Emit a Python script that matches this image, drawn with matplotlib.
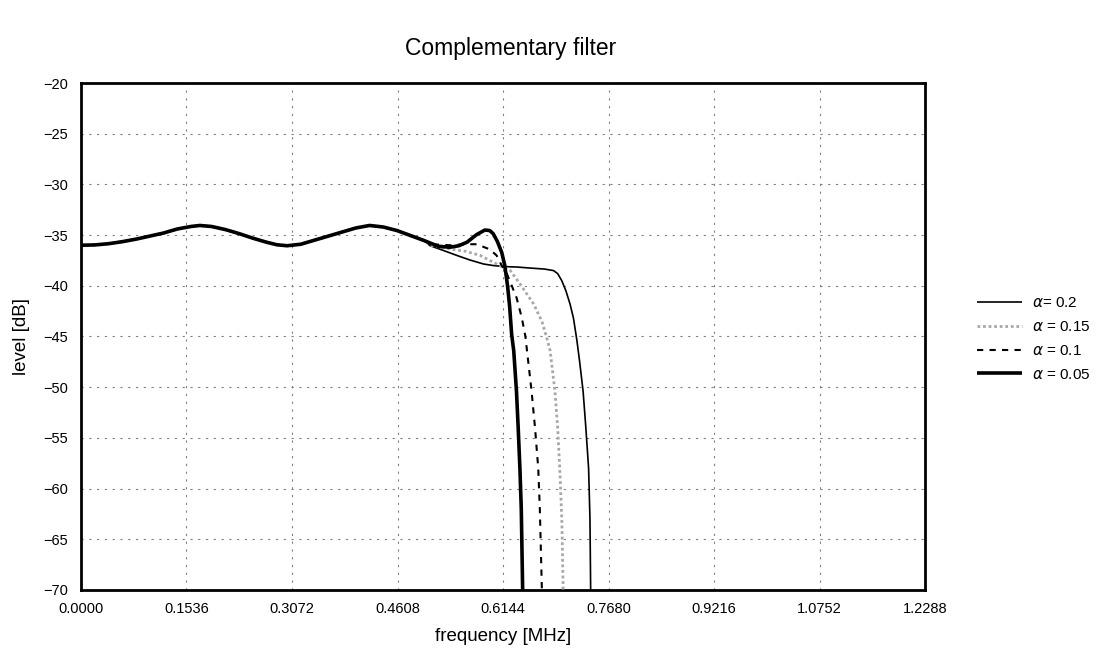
import matplotlib
matplotlib.use("Agg")
import matplotlib.pyplot as plt
import numpy as np

plt.rcParams['font.family'] = ['Liberation Sans', 'DejaVu Sans']
plt.rcParams['axes.unicode_minus'] = True
plt.rcParams['mathtext.fontset'] = 'dejavusans'

# ---- data ----
base_f = [0.000, 0.020, 0.040, 0.060, 0.080, 0.100, 0.120, 0.140, 0.160, 0.173,
          0.190, 0.210, 0.230, 0.250, 0.270, 0.285, 0.300, 0.320, 0.340, 0.360,
          0.380, 0.400, 0.420, 0.440, 0.460, 0.480, 0.500]
base_l = [-36.0, -35.97, -35.85, -35.65, -35.4, -35.1, -34.8, -34.4, -34.15, -34.05,
          -34.15, -34.45, -34.85, -35.3, -35.7, -35.95, -36.05, -35.9, -35.5, -35.1,
          -34.7, -34.3, -34.05, -34.2, -34.55, -35.05, -35.55]

a020_f = [0.508, 0.527, 0.547, 0.566, 0.586, 0.600, 0.615, 0.635, 0.654, 0.675,
          0.688, 0.694, 0.700, 0.706, 0.712, 0.717, 0.722, 0.726, 0.731, 0.735,
          0.739, 0.741, 0.742]
a020_l = [-36.04, -36.5, -37.0, -37.45, -37.85, -38.0, -38.1, -38.15, -38.25, -38.35,
          -38.5, -38.8, -39.5, -40.5, -41.8, -43.2, -45.4, -47.5, -50.4, -54.0,
          -58.0, -63.0, -70.0]

a015_f = [0.508, 0.537, 0.560, 0.581, 0.605, 0.625, 0.639, 0.659, 0.671, 0.678,
          0.683, 0.690, 0.694, 0.697, 0.700, 0.702]
a015_l = [-36.0, -36.37, -36.6, -37.0, -37.85, -38.5, -39.8, -41.8, -43.5, -45.1,
          -46.4, -50.4, -54.0, -58.0, -63.0, -70.0]

a010_f = [0.508, 0.537, 0.560, 0.576, 0.595, 0.605, 0.6125, 0.620, 0.634, 0.6416,
          0.647, 0.656, 0.661, 0.6657, 0.668, 0.671]
a010_l = [-35.9, -36.0, -35.9, -35.9, -36.4, -37.0, -38.0, -38.8, -41.15, -43.1,
          -45.0, -50.4, -54.0, -58.0, -62.0, -70.0]

a005_f = [0.520, 0.537, 0.550, 0.562, 0.576, 0.588, 0.595, 0.600, 0.606, 0.6125,
          0.617, 0.621, 0.624, 0.627, 0.630, 0.634, 0.6365, 0.639, 0.641, 0.643]
a005_l = [-36.1, -36.2, -36.05, -35.7, -34.95, -34.5, -34.55, -34.85, -35.6, -36.7,
          -38.0, -40.0, -42.0, -44.8, -46.4, -50.4, -54.0, -58.0, -62.0, -70.0]

labels = [r'$\alpha$= 0.2', r'$\alpha$ = 0.15', r'$\alpha$ = 0.1', r'$\alpha$ = 0.05']
xticks = [0.0, 0.1536, 0.3072, 0.4608, 0.6144, 0.7680, 0.9216, 1.0752, 1.2288]
xticklabels = ['0.0000', '0.1536', '0.3072', '0.4608', '0.6144', '0.7680',
               '0.9216', '1.0752', '1.2288']
yticks = [-70, -65, -60, -55, -50, -45, -40, -35, -30, -25, -20]

# ---- figure ----
fig = plt.figure(figsize=(10.96, 6.62), dpi=100)
ax = fig.add_axes([0.0739, 0.1088, 0.7701, 0.7658])

styles = [
    dict(color='black', lw=1.2, ls='-'),
    dict(color='#a8a8a8', lw=2.0, ls=(0, (1, 1))),
    dict(color='black', lw=1.5, ls=(0, (3, 3))),
    dict(color='black', lw=2.6, ls='-'),
]
series = [(a020_f, a020_l), (a015_f, a015_l), (a010_f, a010_l), (a005_f, a005_l)]

for (f, l), st, lab in zip(series, styles, labels):
    ff = np.array(base_f + f)
    ll = np.array(base_l + l)
    ax.plot(ff, ll, label=lab, solid_capstyle='butt', **st, zorder=3)

ax.set_xlim(0, 1.2288)
ax.set_ylim(-70, -20)
ax.set_xticks(xticks)
ax.set_xticklabels(xticklabels)
ax.set_yticks(yticks)
ax.tick_params(length=0, labelsize=10.5, pad=9)
ax.grid(True, color='#808080', lw=0.8, ls=(0, (2, 5)))
for s in ax.spines.values():
    s.set_linewidth(2.0)
    s.set_color('black')

ax.set_xlabel('frequency [MHz]', fontsize=13.5, labelpad=8)
ax.set_ylabel('level [dB]', fontsize=13.5, labelpad=10)
fig.text(0.466, 0.927, 'Complementary filter', fontsize=16.5, ha='center', va='center')

fig.legend(loc='center left', bbox_to_anchor=(0.884, 0.488), frameon=False,
           fontsize=11, handlelength=3.0, handletextpad=0.6, labelspacing=0.65,
           borderpad=0)

fig.savefig('out.png', dpi=100)
